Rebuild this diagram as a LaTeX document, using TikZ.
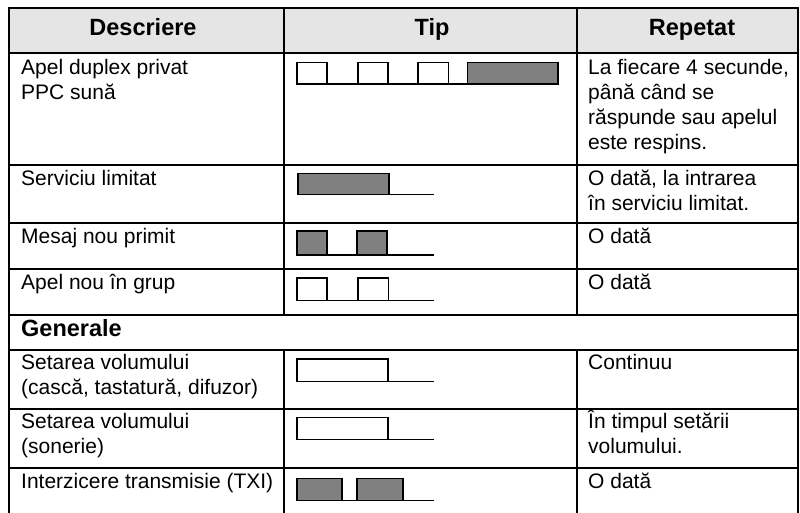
\documentclass[tikz,border=0pt]{standalone}
\usepackage{fontspec}
\setmainfont{Liberation Sans}
\begin{document}
\begin{tikzpicture}[x=1pt,y=-1pt,
  grid/.style={line width=2pt},
  boldtext/.style={font=\fontsize{23.5}{25}\selectfont\bfseries},
  head/.style={boldtext, anchor=base},
  txt/.style={anchor=base west, inner sep=0pt},
  pulse/.style={draw, line width=1.6pt},
  on/.style={pulse, fill=black!50},
  off/.style={pulse, fill=white},
  tail/.style={line width=1.6pt}]
\fontsize{21}{25}\selectfont
\useasboundingbox (0,0) rectangle (800,512);
\fill[black!10] (9,8) rectangle (798,53);

% table rules
\foreach \y in {8,53,165,223,269,315,350,409,468}
  \draw[grid] (8,\y) -- (799,\y);
\draw[grid] (9,7) -- (9,513);
\draw[grid] (798,7) -- (798,513);
\foreach \x in {284,577} {
  \draw[grid] (\x,8) -- (\x,315);
  \draw[grid] (\x,350) -- (\x,513);
}

% header
\node[head] (h1) at (143,35) {Descriere};
\node[head] (h2) at (432,35) {Tip};
\node[head] (h3) at (692,35) {Repetat};

% column 1
\node[txt] (d1a) at (21,74) {Apel duplex privat};
\node[txt] (d1b) at (21,99) {PPC sună};
\node[txt] (d2) at (21,185) {Serviciu limitat};
\node[txt] (d3) at (21,243) {Mesaj nou primit};
\node[txt] (d4) at (21,289) {Apel nou în grup};
\node[txt,boldtext] (gen) at (21,336) {Generale};
\node[txt] (d5a) at (21,369) {Setarea volumului};
\node[txt] (d5b) at (21,394) {(cască, tastatură, difuzor)};
\node[txt] (d6a) at (21,428) {Setarea volumului};
\node[txt] (d6b) at (21,453) {(sonerie)};
\node[txt] (d7) at (21,488) {Interzicere transmisie (TXI)};

% column 3
\node[txt] (r1a) at (588,74) {La fiecare 4 secunde,};
\node[txt] (r1b) at (588,99) {până când se};
\node[txt] (r1c) at (588,124) {răspunde sau apelul};
\node[txt] (r1d) at (588,149) {este respins.};
\node[txt] (r2a) at (588,185) {O dată, la intrarea};
\node[txt] (r2b) at (588,210) {în serviciu limitat.};
\node[txt] (r3) at (588,243) {O dată};
\node[txt] (r4) at (588,289) {O dată};
\node[txt] (r5) at (588,369) {Continuu};
\node[txt] (r6a) at (588,428) {În timpul setării};
\node[txt] (r6b) at (588,453) {volumului.};
\node[txt] (r7) at (588,488) {O dată};

% tone patterns
% row 1
\draw[tail] (297,83.7) -- (467,83.7);
\draw[off] (296.7,62.3) rectangle (326.7,83.7);
\draw[off] (357.7,62.3) rectangle (387.7,83.7);
\draw[off] (417.7,62.3) rectangle (448.3,83.7);
\draw[on] (467.3,62.3) rectangle (557.7,83.7);
% row 2
\draw[tail] (297,194.3) -- (434.3,194.3);
\draw[on] (297.7,173.3) rectangle (389,194.3);
% row 3
\draw[tail] (297,254.7) -- (433.7,254.7);
\draw[on] (296.7,231) rectangle (327,254.7);
\draw[on] (357,231) rectangle (387,254.7);
% row 4
\draw[tail] (297,300.3) -- (433.7,300.3);
\draw[off] (296.7,277.7) rectangle (327,300.3);
\draw[off] (357.7,277.7) rectangle (388.3,300.3);
% row 5
\draw[tail] (297,381.3) -- (433.7,381.3);
\draw[off] (296.7,359) rectangle (388,381.3);
% row 6
\draw[tail] (297,439.3) -- (433.7,439.3);
\draw[off] (296.7,417.3) rectangle (388,439.3);
% row 7
\draw[tail] (297,500.3) -- (433.7,500.3);
\draw[on] (296.7,478.3) rectangle (342,500.3);
\draw[on] (356.7,478.3) rectangle (403,500.3);
\end{tikzpicture}
\end{document}
